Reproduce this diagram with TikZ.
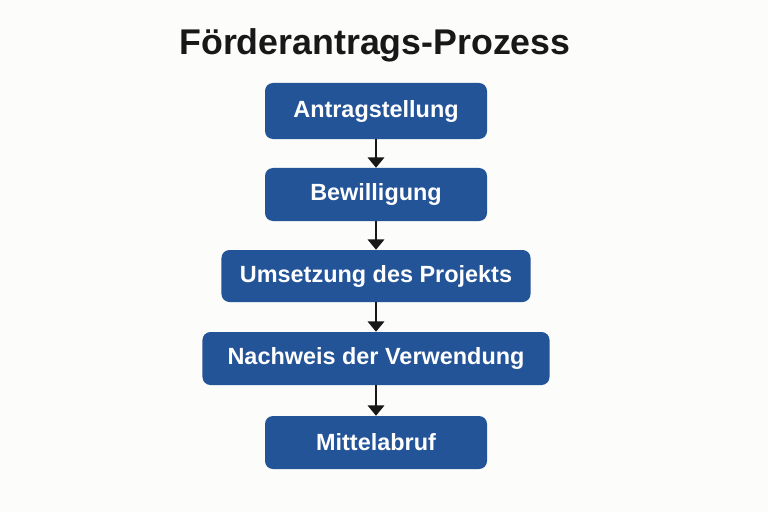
\documentclass[tikz,border=0pt]{standalone}
\usepackage{fontspec}
\setmainfont{Liberation Sans}
\usepackage{tikz}
\usetikzlibrary{arrows.meta,positioning}
\definecolor{stepblue}{RGB}{36,84,152}
\definecolor{titleK}{RGB}{24,24,24}
\definecolor{paper}{RGB}{252,252,251}

\begin{document}
\begin{tikzpicture}[
  x=0.03cm, y=-0.03cm,
  >={Triangle[length=3.1mm, width=4.9mm]},
  stepbox/.style={rectangle, rounded corners=2.4mm, fill=stepblue, text=white,
                  font=\fontsize{20}{24}\selectfont\bfseries, inner sep=0pt,
                  minimum height=15.9mm, minimum width=66.6mm},
  flow/.style={->, line width=2.1pt, titleK}]

  \fill[paper] (0,0) rectangle (768,512);
  \useasboundingbox (0,0) rectangle (768,512);

  \node[font=\fontsize{30.5}{36}\selectfont\bfseries, text=titleK] (title) at (375,45)
    {Förderantrags-Prozess};

  \node[stepbox, minimum height=16.8mm] (antrag) at (376,111) {Antragstellung};
  \node[stepbox] (bewill) at (376,194.5) {Bewilligung};
  \node[stepbox, minimum width=92.7mm, minimum height=15.6mm] (umsetz) at (376,276)
    {Umsetzung des Projekts};
  \node[stepbox, minimum width=104.1mm] (nachw) at (376,358.5) {Nachweis der Verwendung};
  \node[stepbox] (mittel) at (376,442.5) {Mittelabruf};

  % arrows between the steps
  \draw[flow] (antrag) -- (bewill);
  \draw[flow] (bewill) -- (umsetz);
  \draw[flow] (umsetz) -- (nachw);
  \draw[flow] (nachw) -- (mittel);
\end{tikzpicture}
\end{document}
